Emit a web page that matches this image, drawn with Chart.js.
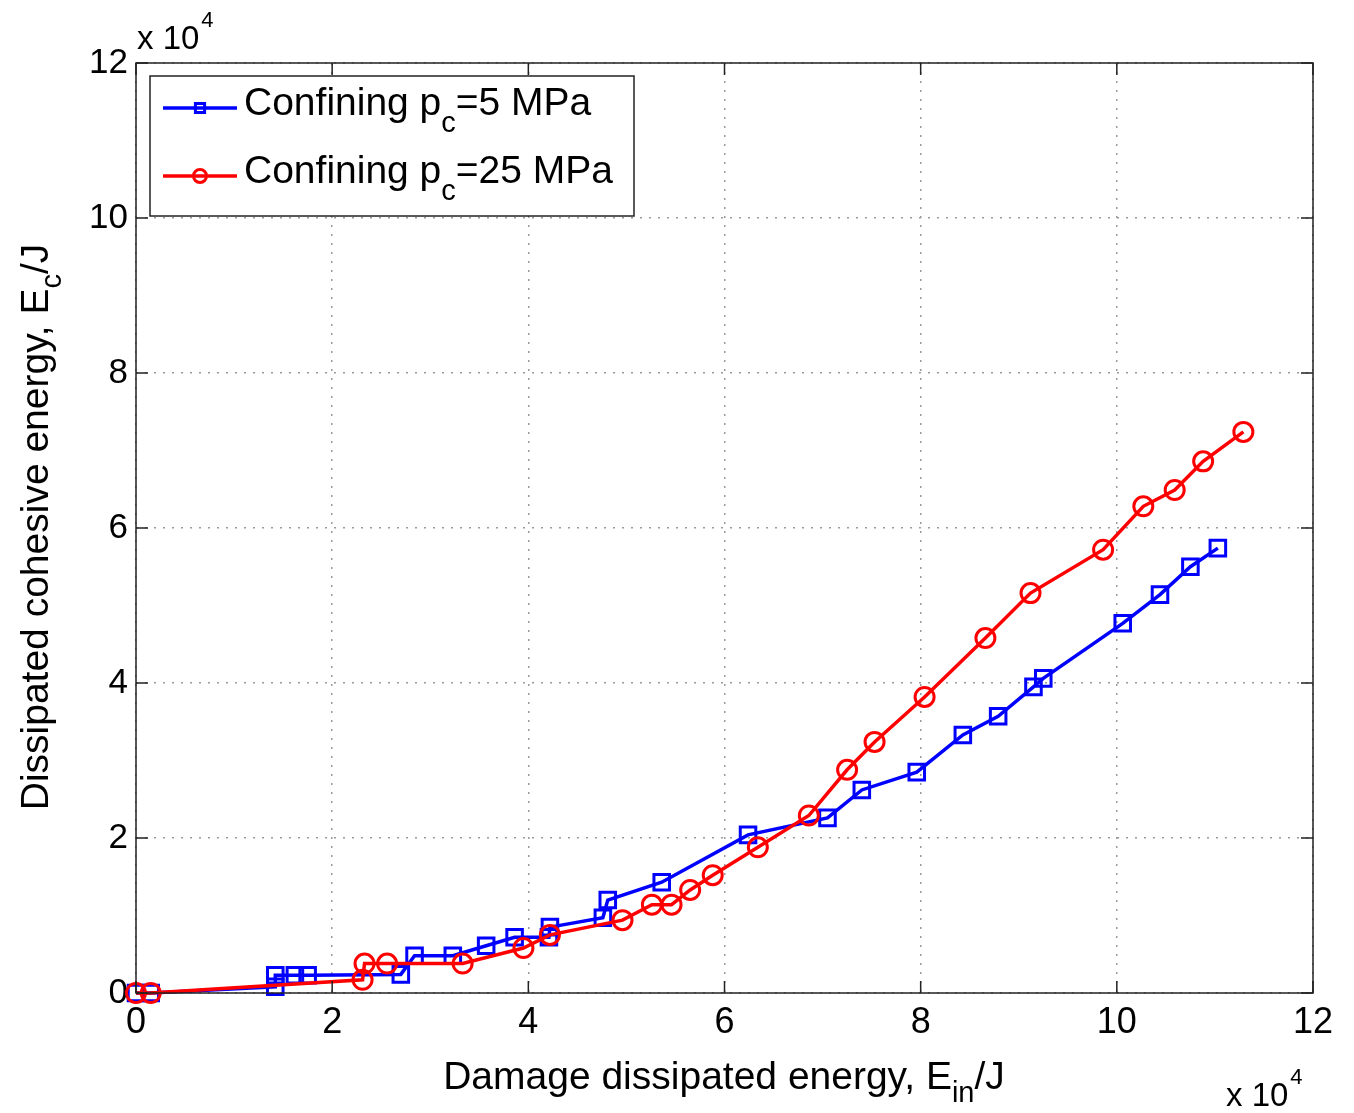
<!DOCTYPE html>
<html>
<head>
<meta charset="utf-8">
<script src="https://cdn.jsdelivr.net/npm/chart.js@4.4.1/dist/chart.umd.min.js"></script>
<style>
  html, body { margin: 0; padding: 0; background: #fff; }
  #wrap { width: 1354px; height: 1113px; }
</style>
</head>
<body>
<div id="wrap"><canvas id="c" width="1354" height="1113"></canvas></div>
<script>
// Values in units of 10^4 J
const seriesNames = ['Confining p_c=5 MPa', 'Confining p_c=25 MPa'];
const blueX = [0, 0.15, 1.42, 1.42, 1.62, 1.75, 2.70, 2.84, 3.23, 3.57, 3.86, 4.21, 4.22, 4.76, 4.81, 5.36, 6.24, 7.05, 7.40, 7.96, 8.43, 8.79, 9.15, 9.25, 10.06, 10.44, 10.75, 11.03];
const blueY = [0, 0, 0.08, 0.23, 0.23, 0.23, 0.24, 0.48, 0.48, 0.61, 0.72, 0.72, 0.85, 0.97, 1.20, 1.43, 2.04, 2.26, 2.62, 2.85, 3.33, 3.57, 3.95, 4.06, 4.77, 5.14, 5.50, 5.74];
const redX = [0, 0.15, 2.31, 2.33, 2.56, 3.33, 3.95, 4.22, 4.96, 5.26, 5.46, 5.65, 5.88, 6.34, 6.86, 7.25, 7.53, 8.04, 8.66, 9.12, 9.86, 10.27, 10.59, 10.88, 11.29];
const redY = [0, 0, 0.17, 0.38, 0.38, 0.38, 0.58, 0.75, 0.94, 1.14, 1.14, 1.33, 1.52, 1.88, 2.29, 2.88, 3.24, 3.82, 4.58, 5.16, 5.72, 6.28, 6.49, 6.86, 7.24];
const xTicks = [0, 2, 4, 6, 8, 10, 12];
const yTicks = [0, 2, 4, 6, 8, 10, 12];
const xTitle = [{t: 'Damage dissipated energy, E'}, {t: 'in', sub: true}, {t: '/J'}];
const yTitle = [{t: 'Dissipated cohesive energy, E'}, {t: 'c', sub: true}, {t: '/J'}];
const multiplier = ['x 10', '4'];

const FONT = '"Liberation Sans", Arial, Helvetica, sans-serif';
const BLUE = '#0000ff', RED = '#ff0000';

function pts(xs, ys) { return xs.map((x, i) => ({x: x, y: ys[i]})); }

function richParts(name) {
  const m = name.split('_');
  if (m.length === 1) return [{t: name}];
  const after = m[1];
  const idx = after.indexOf('=');
  return [{t: m[0]}, {t: after.slice(0, idx), sub: true}, {t: after.slice(idx)}];
}

function drawRich(ctx, parts, x, y, size, subSize, subDy, align) {
  let w = 0;
  parts.forEach(p => { ctx.font = (p.sub ? subSize : size) + 'px ' + FONT; w += ctx.measureText(p.t).width; });
  let cx = align === 'center' ? x - w / 2 : x;
  ctx.textBaseline = 'middle';
  ctx.textAlign = 'left';
  parts.forEach(p => {
    ctx.font = (p.sub ? subSize : size) + 'px ' + FONT;
    ctx.fillText(p.t, cx, y + (p.sub ? subDy : 0));
    cx += ctx.measureText(p.t).width;
  });
}

function drawMultiplier(ctx, x, y) {
  ctx.textBaseline = 'middle';
  ctx.textAlign = 'left';
  ctx.font = '33px ' + FONT;
  ctx.fillText(multiplier[0], x, y);
  const w = ctx.measureText(multiplier[0]).width;
  ctx.font = '22px ' + FONT;
  ctx.fillText(multiplier[1], x + w + 2, y - 19);
}

const decor = {
  id: 'decor',
  afterDraw(chart) {
    const ctx = chart.ctx;
    const a = chart.chartArea;
    const xs = chart.scales.x, ys = chart.scales.y;
    ctx.save();
    ctx.fillStyle = '#000';
    ctx.strokeStyle = '#222';
    ctx.lineWidth = 1.5;
    // inward ticks
    const tl = 12;
    ctx.beginPath();
    xTicks.forEach(v => {
      const px = xs.getPixelForValue(v);
      ctx.moveTo(px, a.bottom); ctx.lineTo(px, a.bottom - tl);
      ctx.moveTo(px, a.top); ctx.lineTo(px, a.top + tl);
    });
    yTicks.forEach(v => {
      const py = ys.getPixelForValue(v);
      ctx.moveTo(a.left, py); ctx.lineTo(a.left + tl, py);
      ctx.moveTo(a.right, py); ctx.lineTo(a.right - tl, py);
    });
    ctx.stroke();
    // border box
    ctx.lineWidth = 1.5;
    ctx.strokeRect(a.left, a.top, a.right - a.left, a.bottom - a.top);

    // multipliers
    ctx.fillStyle = '#000';
    drawMultiplier(ctx, a.left + 1, a.top - 23);
    drawMultiplier(ctx, 1226, 1097);

    // axis titles
    drawRich(ctx, xTitle, 724, 1078, 39, 29, 16, 'center');
    ctx.save();
    ctx.translate(37, 527);
    ctx.rotate(-Math.PI / 2);
    drawRich(ctx, yTitle, 0, 0, 39, 29, 16, 'center');
    ctx.restore();

    // legend
    const lx = 150, ly = 76, lw = 484, lh = 140;
    ctx.fillStyle = '#fff';
    ctx.fillRect(lx, ly, lw, lh);
    ctx.strokeStyle = '#222';
    ctx.lineWidth = 1.5;
    ctx.strokeRect(lx, ly, lw, lh);
    const rows = [
      {ds: chart.data.datasets[1], y: 108},
      {ds: chart.data.datasets[0], y: 176}
    ];
    rows.forEach(r => {
      const ds = r.ds;
      ctx.strokeStyle = ds.borderColor;
      ctx.lineWidth = ds.borderWidth;
      ctx.beginPath();
      ctx.moveTo(163, r.y); ctx.lineTo(237, r.y);
      ctx.stroke();
      ctx.fillStyle = 'rgba(0,0,0,0)';
      ctx.lineWidth = ds.pointBorderWidth;
      Chart.helpers.drawPoint(ctx, {pointStyle: ds.pointStyle, radius: 6.5, borderWidth: ds.pointBorderWidth}, 200, r.y);
      ctx.fillStyle = '#000';
      drawRich(ctx, richParts(ds.label), 244, r.y - 4, 39, 29, 20, 'left');
    });
    ctx.restore();
  }
};

const chart = new Chart(document.getElementById('c'), {
  type: 'scatter',
  data: {
    datasets: [
      {
        label: seriesNames[1],
        data: pts(redX, redY),
        showLine: true,
        borderColor: RED,
        backgroundColor: 'rgba(0,0,0,0)',
        borderWidth: 3.5,
        pointStyle: 'circle',
        pointRadius: 9.5,
        pointBorderWidth: 3,
        pointBorderColor: RED,
        pointBackgroundColor: 'rgba(0,0,0,0)'
      },
      {
        label: seriesNames[0],
        data: pts(blueX, blueY),
        showLine: true,
        borderColor: BLUE,
        backgroundColor: 'rgba(0,0,0,0)',
        borderWidth: 3.5,
        pointStyle: 'rect',
        pointRadius: 11,
        pointBorderWidth: 3,
        pointBorderColor: BLUE,
        pointBackgroundColor: 'rgba(0,0,0,0)'
      }
    ]
  },
  options: {
    responsive: false,
    animation: false,
    clip: false,
    layout: {padding: {left: 0, top: 63, right: 41, bottom: 0}},
    plugins: {legend: {display: false}, tooltip: {enabled: false}},
    scales: {
      x: {
        type: 'linear', min: 0, max: 12,
        afterBuildTicks(s) { s.ticks = xTicks.map(v => ({value: v})); },
        ticks: {font: {family: FONT, size: 36}, color: '#000', padding: 8, maxRotation: 0},
        grid: {color: '#9a9a9a', lineWidth: 1.5, drawTicks: false},
        border: {display: false, dash: [2, 7]},
        afterFit(s) { s.height = 120; }
      },
      y: {
        type: 'linear', min: 0, max: 12,
        afterBuildTicks(s) { s.ticks = yTicks.map(v => ({value: v})); },
        ticks: {font: {family: FONT, size: 35}, color: '#000', padding: 8},
        grid: {color: '#9a9a9a', lineWidth: 1.5, drawTicks: false},
        border: {display: false, dash: [2, 7]},
        afterFit(s) { s.width = 136; }
      }
    }
  },
  plugins: [decor]
});
</script>
</body>
</html>
